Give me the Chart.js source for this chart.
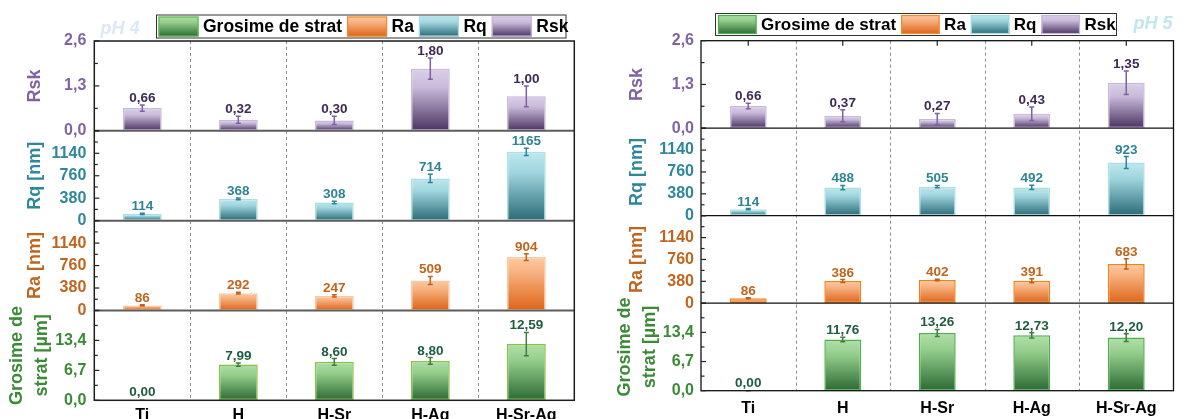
<!DOCTYPE html>
<html><head><meta charset="utf-8">
<script src="https://cdn.jsdelivr.net/npm/chart.js@4.4.1/dist/chart.umd.min.js"></script>
<style>
html,body{margin:0;padding:0;background:#fff;width:1187px;height:419px;overflow:hidden;}
canvas{position:absolute;top:0;}
#c4{left:0;} #c5{left:595px;}
</style></head><body>
<canvas id="c4" width="590" height="419"></canvas>
<canvas id="c5" width="592" height="419"></canvas>
<script>
// ---------------- data ----------------
const categories = ['Ti', 'H', 'H-Sr', 'H-Ag', 'H-Sr-Ag'];
const legendLabels = ['Grosime de strat', 'Ra', 'Rq', 'Rsk'];
const rskTicks = [0, 1.3, 2.6];
const nmTicks = [0, 380, 760, 1140, 1520];
const umTicks = [0, 6.7, 13.4, 20.1];

const ph4Rsk = [0.66, 0.32, 0.30, 1.80, 1.00];
const ph4RskErr = [0.09, 0.10, 0.12, 0.31, 0.30];
const ph4Rq = [114, 368, 308, 714, 1165];
const ph4RqErr = [10, 15, 22, 70, 62];
const ph4Ra = [86, 292, 247, 509, 904];
const ph4RaErr = [10, 15, 18, 68, 58];
const ph4Gros = [0.00, 7.99, 8.60, 8.80, 12.59];
const ph4GrosErr = [0.0, 0.35, 0.75, 0.75, 2.6];

const ph5Rsk = [0.66, 0.37, 0.27, 0.43, 1.35];
const ph5RskErr = [0.08, 0.18, 0.17, 0.20, 0.35];
const ph5Rq = [114, 488, 505, 492, 923];
const ph5RqErr = [10, 38, 20, 38, 104];
const ph5Ra = [86, 386, 402, 391, 683];
const ph5RaErr = [10, 25, 12, 35, 87];
const ph5Gros = [0.00, 11.76, 13.26, 12.73, 12.20];
const ph5GrosErr = [0.0, 0.5, 0.8, 0.6, 0.9];

// ---------------- styles ----------------
const FONT = "'Liberation Sans', Arial, sans-serif";
Chart.defaults.font.family = FONT;
const S = {
  gros: {light:'#b2dfaa', mid:'#93cd8a', dark:'#2c6a34', tick:'#3b8a36', label:'#1f5c40', err:'#3f7d40'},
  ra:   {light:'#fccba4', mid:'#f7b07e', dark:'#dd6418', tick:'#c0651e', label:'#c0651e', err:'#c0601a'},
  rq:   {light:'#c0e8ee', mid:'#a0d5de', dark:'#296b77', tick:'#2f879a', label:'#2f8494', err:'#2e8593'},
  rsk:  {light:'#dbd0e9', mid:'#c9bada', dark:'#4a3262', tick:'#8064a2', label:'#3e2a55', err:'#7d62a0'}
};

function fmtDec(v, d) { return v.toFixed(d).replace('.', ','); }

function gradFill(key) {
  return (c) => {
    const st = S[key];
    const chart = c.chart;
    if (c.type !== 'data' || !chart.chartArea) return st.mid;
    const ys = chart.scales[c.dataset.yAxisID];
    if (!ys) return st.mid;
    const top = ys.getPixelForValue(c.raw), bot = ys.getPixelForValue(0);
    if (!isFinite(top) || bot - top < 1) return st.mid;
    const g = chart.ctx.createLinearGradient(0, top, 0, bot);
    g.addColorStop(0, st.light); g.addColorStop(0.3, st.mid); g.addColorStop(1, st.dark);
    return g;
  };
}

function buildPanel(canvasId, p) {
  const series = [
    {key:'gros', id:'yG',   data:p.gros, err:p.grosErr, ticks:umTicks,  dec:2, tdec:1, title:['Grosime de','strat [µm]'], border:p.grosBorder, hideTop:true,  tpad:p.gTitlePad, lh:1.4},
    {key:'ra',   id:'yRa',  data:p.ra,   err:p.raErr,   ticks:nmTicks,  dec:0, tdec:0, title:'Ra [nm]', border:p.raBorder, hideTop:true, tpad:p.titlePad, lh:1.2},
    {key:'rq',   id:'yRq',  data:p.rq,   err:p.rqErr,   ticks:nmTicks,  dec:0, tdec:0, title:'Rq [nm]', border:p.rqBorder, hideTop:true, tpad:p.titlePad, lh:1.2},
    {key:'rsk',  id:'yRsk', data:p.rsk,  err:p.rskErr,  ticks:rskTicks, dec:2, tdec:1, title:'Rsk', border:p.rskBorder, hideTop:false, tpad:p.titlePad, lh:1.2}
  ];
  const scales = {
    x: {
      type:'category', position:'bottom',
      grid:{display:false, drawTicks:false}, border:{display:false},
      ticks:{color:'#000', font:{size:16, weight:'bold'}, padding:p.xPad, maxRotation:0, autoSkip:false},
      afterFit: s => { s.height = p.xH; }
    }
  };
  series.forEach(sr => {
    scales[sr.id] = {
      type:'linear', position:'left', stack:'panel', stackWeight:1,
      min: sr.ticks[0], max: sr.ticks[sr.ticks.length - 1],
      grid:{display:false, drawTicks:false}, border:{display:false},
      afterBuildTicks: s => { s.ticks = sr.ticks.map(v => ({value:v})); },
      afterFit: s => { s.width = p.axisW; },
      ticks:{
        autoSkip:false, padding:p.tickPad, color:S[sr.key].tick,
        font:{size:16, weight:'bold'},
        callback:(v, i, arr) => (sr.hideTop && i === arr.length - 1) ? '' : (sr.tdec ? fmtDec(v, sr.tdec) : String(v))
      },
      title:{display:true, text:sr.title, color:S[sr.key].tick,
        font:{size:18, weight:'bold', lineHeight:sr.lh}, padding:{top:sr.tpad, bottom:0}}
    };
  });
  const datasets = series.map(sr => ({
    label: sr.key, data: sr.data, errs: sr.err, dec: sr.dec, skey: sr.key,
    xAxisID:'x', yAxisID: sr.id, grouped:false,
    barPercentage: p.barPct, categoryPercentage: 1.0,
    backgroundColor: gradFill(sr.key),
    borderColor: sr.border,
    borderWidth: c => (c.raw === 0 ? 0 : p.barBorderW),
    borderSkipped: false
  }));

  const deco = {
    id:'deco',
    beforeDatasetsDraw(chart) {
      const {ctx, chartArea:a, scales:{x}} = chart;
      ctx.save();
      ctx.strokeStyle = '#8c8c8c'; ctx.lineWidth = 1; ctx.setLineDash([3, 3]);
      for (let i = 1; i < categories.length; i++) {
        const px = Math.round((x.getPixelForValue(i - 1) + x.getPixelForValue(i)) / 2) + 0.5;
        ctx.beginPath(); ctx.moveTo(px, a.top); ctx.lineTo(px, a.bottom); ctx.stroke();
      }
      ctx.restore();
    },
    afterDatasetsDraw(chart) {
      const ctx = chart.ctx;
      ctx.save();
      chart.data.datasets.forEach((ds, di) => {
        const meta = chart.getDatasetMeta(di);
        const ys = chart.scales[ds.yAxisID];
        const st = S[ds.skey];
        meta.data.forEach((el, i) => {
          const v = ds.data[i], e = ds.errs[i];
          const yT = ys.getPixelForValue(v + e), yB = ys.getPixelForValue(Math.max(0, v - e));
          ctx.strokeStyle = st.err; ctx.lineWidth = 1.5;
          ctx.beginPath();
          ctx.moveTo(el.x, yT); ctx.lineTo(el.x, yB);
          ctx.moveTo(el.x - 2.5, yT); ctx.lineTo(el.x + 2.5, yT);
          ctx.moveTo(el.x - 2.5, yB); ctx.lineTo(el.x + 2.5, yB);
          ctx.stroke();
          ctx.fillStyle = st.label;
          ctx.font = 'bold 13.5px ' + FONT;
          ctx.textAlign = 'center'; ctx.textBaseline = 'alphabetic';
          const txt = ds.dec ? fmtDec(v, ds.dec) : String(Math.round(v));
          ctx.fillText(txt, el.x, yT - (v === 0 ? 4 : 3));
        });
      });
      ctx.restore();
    },
    afterDraw(chart) {
      const {ctx, chartArea:a, scales} = chart;
      ctx.save();
      // separators
      ['yG', 'yRa', 'yRq'].forEach(id => {
        const y = scales[id].top;
        ctx.strokeStyle = p.sepColor; ctx.lineWidth = p.sepW;
        ctx.beginPath(); ctx.moveTo(a.left, y); ctx.lineTo(a.right, y); ctx.stroke();
      });
      // frame
      ctx.strokeStyle = p.frameColor; ctx.lineWidth = p.frameW;
      ctx.strokeRect(a.left, a.top, a.right - a.left, a.bottom - a.top);
      // inward y ticks (major + minor)
      ctx.lineWidth = 1.2; ctx.strokeStyle = '#222';
      series.forEach(sr => {
        const ys = scales[sr.id];
        for (let k = 0; k < sr.ticks.length; k++) {
          const y = ys.getPixelForValue(sr.ticks[k]);
          ctx.beginPath(); ctx.moveTo(a.left, y); ctx.lineTo(a.left + 5, y); ctx.stroke();
          if (k < sr.ticks.length - 1) {
            const ym = ys.getPixelForValue((sr.ticks[k] + sr.ticks[k + 1]) / 2);
            ctx.beginPath(); ctx.moveTo(a.left, ym); ctx.lineTo(a.left + 3.5, ym); ctx.stroke();
          }
        }
      });
      // top ticks at category centres
      if (p.topTicks) {
        for (let i = 0; i < categories.length; i++) {
          const px = scales.x.getPixelForValue(i);
          ctx.beginPath(); ctx.moveTo(px, a.top); ctx.lineTo(px, a.top + 5); ctx.stroke();
        }
      }
      // pH label
      ctx.font = 'italic bold 18px ' + FONT;
      ctx.fillStyle = p.phColor; ctx.textAlign = 'left'; ctx.textBaseline = 'alphabetic';
      ctx.fillText(p.phText, p.phX, p.phY);
      // legend
      const L = p.legend;
      ctx.fillStyle = '#fff';
      ctx.fillRect(L.x, L.y, L.w, L.h);
      ctx.strokeStyle = '#333'; ctx.lineWidth = 1;
      ctx.strokeRect(L.x + 0.5, L.y + 0.5, L.w - 1, L.h - 1);
      const keys = ['gros', 'ra', 'rq', 'rsk'];
      const borders = [p.grosLegBorder, p.raLegBorder, p.rqLegBorder, p.rskLegBorder];
      ctx.font = 'bold ' + L.fs + 'px ' + FONT;
      let cx = L.x + L.pad;
      const sy = L.y + (L.h - L.sh) / 2;
      keys.forEach((k, i) => {
        const st = S[k];
        const g = ctx.createLinearGradient(0, sy, 0, sy + L.sh);
        g.addColorStop(0, st.light); g.addColorStop(0.3, st.mid); g.addColorStop(1, st.dark);
        ctx.fillStyle = g; ctx.fillRect(cx, sy, L.sw, L.sh);
        ctx.strokeStyle = borders[i]; ctx.lineWidth = 1.2;
        ctx.strokeRect(cx + 0.5, sy + 0.5, L.sw - 1, L.sh - 1);
        cx += L.sw + L.g1;
        ctx.fillStyle = '#000'; ctx.textAlign = 'left'; ctx.textBaseline = 'middle';
        ctx.fillText(legendLabels[i], cx, L.y + L.h / 2 + 1);
        cx += ctx.measureText(legendLabels[i]).width + L.g2;
      });
      ctx.restore();
    }
  };

  return new Chart(document.getElementById(canvasId), {
    type:'bar',
    data:{labels:categories, datasets},
    options:{
      responsive:false, animation:false, events:[],
      layout:{padding:{top:p.padTop, right:p.padRight, bottom:0, left:0}},
      plugins:{legend:{display:false}, tooltip:{enabled:false}},
      scales
    },
    plugins:[deco]
  });
}

buildPanel('c4', {
  rsk:ph4Rsk, rskErr:ph4RskErr, rq:ph4Rq, rqErr:ph4RqErr, ra:ph4Ra, raErr:ph4RaErr, gros:ph4Gros, grosErr:ph4GrosErr,
  padTop:41, padRight:15.7, axisW:94.3, xH:18.7, xPad:6, tickPad:8,
  titlePad:24.2, gTitlePad:4.6, barPct:0.405, barBorderW:1.5,
  grosBorder:'#86c441', raBorder:'#f8c8a2', rqBorder:'#aadfe6', rskBorder:'#c8b9dc',
  grosLegBorder:'#62b85a', raLegBorder:'#f08a2e', rqLegBorder:'#a5dbe2', rskLegBorder:'#c6b6dc',
  sepColor:'#5c5c5c', sepW:2, frameColor:'#1e1e1e', frameW:1.5, topTicks:false,
  phText:'pH 4', phX:100.5, phY:34, phColor:'#dce7f7',
  legend:{x:156, y:14.5, w:410.5, h:24, pad:2.5, sw:40, sh:20, g1:4.5, g2:5, fs:17.5}
});

buildPanel('c5', {
  rsk:ph5Rsk, rskErr:ph5RskErr, rq:ph5Rq, rqErr:ph5RqErr, ra:ph5Ra, raErr:ph5RaErr, gros:ph5Gros, grosErr:ph5GrosErr,
  padTop:40.7, padRight:13.5, axisW:106, xH:28.3, xPad:8, tickPad:7,
  titlePad:30.9, gTitlePad:17.5, barPct:0.39, barBorderW:1.5,
  grosBorder:'#4cb14c', raBorder:'#f0821e', rqBorder:'#aadfe6', rskBorder:'#c8b9dc',
  grosLegBorder:'#4cb14c', raLegBorder:'#f08a2e', rqLegBorder:'#a5dbe2', rskLegBorder:'#c6b6dc',
  sepColor:'#111', sepW:1.3, frameColor:'#111', frameW:1.3, topTicks:true,
  phText:'pH 5', phX:538.5, phY:28.5, phColor:'#c0e6ee',
  legend:{x:120, y:13, w:402, h:23, pad:3, sw:38.5, sh:19, g1:4.5, g2:5, fs:17}
});
</script>
</body></html>
